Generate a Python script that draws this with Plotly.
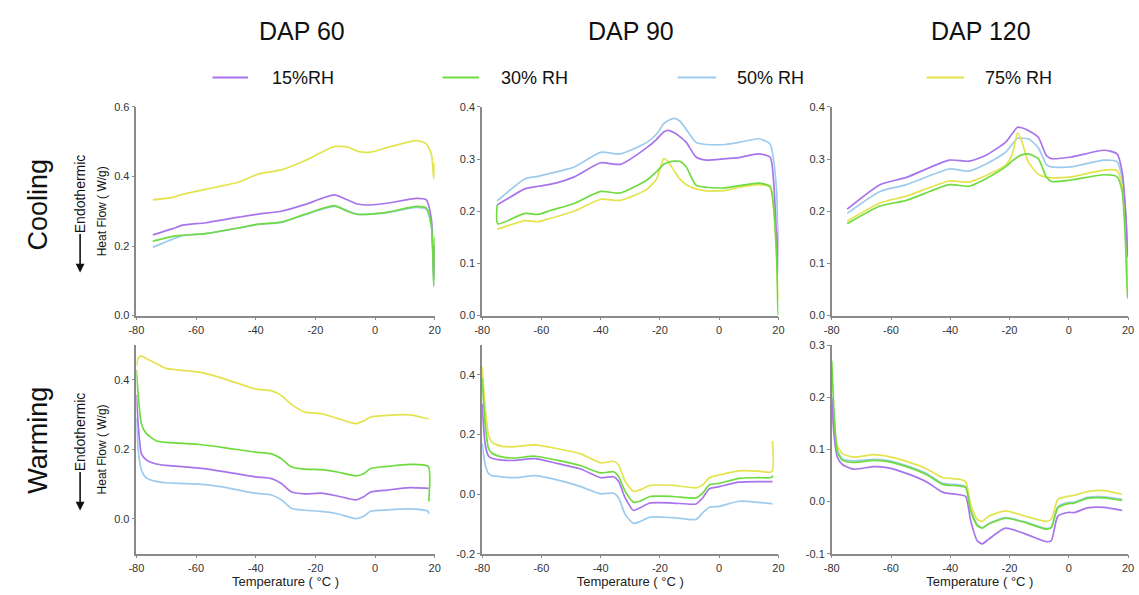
import plotly.graph_objects as go

# ---------------- data (Heat flow, W/g vs temperature, °C) ----------------
series_names = ["15%RH", "30% RH", "50% RH", "75% RH"]
series_colors = ["#A874EC", "#6FDB3F", "#9DCBEE", "#E3E34E"]
col_titles = ["DAP 60", "DAP 90", "DAP 120"]
row_titles = ["Cooling", "Warming"]
x_ticks = [-80, -60, -40, -20, 0, 20]

# Cooling, DAP 60
t_cool_60 = [-74.5, -67.8, -64.5, -56.8, -45.7, -39.1, -31.4, -23.6, -13.7, -9.3,
             -6.0, -1.5, 4.0, 13.9, 17.2, 18.9, 19.7, 20.0]
cool_60_rh15 = [0.232, 0.250, 0.260, 0.267, 0.283, 0.292, 0.300, 0.319, 0.347, 0.333,
                0.321, 0.318, 0.323, 0.337, 0.333, 0.277, 0.108, 0.200]
cool_60_rh30 = [0.214, 0.228, 0.231, 0.236, 0.252, 0.263, 0.269, 0.291, 0.316, 0.300,
                0.291, 0.292, 0.297, 0.314, 0.309, 0.258, 0.084, 0.225]
cool_60_rh50 = [0.197, 0.220, 0.230, 0.236, 0.252, 0.262, 0.268, 0.290, 0.314, 0.302,
                0.292, 0.292, 0.296, 0.311, 0.306, 0.255, 0.090, 0.200]
cool_60_rh75 = [0.333, 0.340, 0.349, 0.363, 0.384, 0.407, 0.419, 0.445, 0.486, 0.485,
                0.473, 0.470, 0.483, 0.503, 0.494, 0.464, 0.394, 0.440]

# Cooling, DAP 90
t_cool_90 = [-74.9, -74.7, -65.6, -61.1, -56.7, -48.9, -40.0, -33.3, -24.4, -21.1,
             -18.7, -17.2, -15.0, -13.3, -11.1, -7.8, -4.4, 2.2, 6.7, 13.3,
             17.2, 18.3, 19.4, 19.8, 20.0]
cool_90_rh15 = [0.213, 0.213, 0.243, 0.248, 0.252, 0.266, 0.293, 0.290, 0.322, 0.338,
                0.352, 0.355, 0.350, 0.343, 0.332, 0.304, 0.298, 0.301, 0.303, 0.310,
                0.304, 0.263, 0.144, 0.080, 0.170]
cool_90_rh30 = [0.213, 0.176, 0.196, 0.194, 0.202, 0.215, 0.238, 0.235, 0.260, 0.276,
                0.290, 0.294, 0.296, 0.296, 0.285, 0.250, 0.246, 0.245, 0.249, 0.254,
                0.248, 0.213, 0.113, 0.020, 0.000]
cool_90_rh50 = [0.220, 0.221, 0.262, 0.267, 0.273, 0.285, 0.313, 0.310, 0.332, 0.348,
                0.368, 0.374, 0.378, 0.373, 0.357, 0.332, 0.328, 0.328, 0.332, 0.339,
                0.329, 0.301, 0.238, 0.175, 0.170]
cool_90_rh75 = [0.166, 0.166, 0.182, 0.180, 0.187, 0.200, 0.223, 0.221, 0.242, 0.262,
                0.301, 0.295, 0.276, 0.262, 0.251, 0.243, 0.239, 0.240, 0.246, 0.251,
                0.246, 0.210, 0.113, 0.050, 0.030]

# Cooling, DAP 120
t_cool_120 = [-74.8, -63.7, -54.8, -40.3, -33.7, -28.1, -21.4, -19.2, -17.3, -15.9,
              -13.7, -10.3, -7.6, -5.9, 0.8, 11.9, 16.3, 18.0, 19.1, 19.9, 20.0]
cool_120_rh15 = [0.204, 0.251, 0.265, 0.298, 0.296, 0.307, 0.332, 0.348, 0.361, 0.360,
                 0.355, 0.342, 0.307, 0.301, 0.304, 0.317, 0.310, 0.276, 0.207, 0.113, 0.140]
cool_120_rh30 = [0.176, 0.210, 0.221, 0.251, 0.248, 0.262, 0.285, 0.296, 0.304, 0.308,
                 0.310, 0.301, 0.266, 0.257, 0.260, 0.270, 0.266, 0.238, 0.144, 0.034, 0.034]
cool_120_rh50 = [0.196, 0.238, 0.251, 0.281, 0.277, 0.290, 0.313, 0.328, 0.340, 0.340,
                 0.339, 0.322, 0.290, 0.285, 0.285, 0.298, 0.295, 0.263, 0.200, 0.130, 0.110]
cool_120_rh75 = [0.181, 0.216, 0.229, 0.258, 0.256, 0.268, 0.288, 0.307, 0.350, 0.335,
                 0.295, 0.271, 0.265, 0.264, 0.266, 0.279, 0.278, 0.251, 0.190, 0.100, 0.050]

# Warming, DAP 60
t_warm_60 = [-80.0, -79.4, -78.3, -76.7, -73.4, -70.1, -65.6, -59.0, -51.3, -40.2,
             -34.7, -31.4, -28.1, -23.6, -18.1, -12.6, -6.5, -3.8, -1.5, 4.0,
             11.7, 17.8, 18.0]
warm_60_rh15 = [0.357, 0.272, 0.187, 0.170, 0.158, 0.154, 0.151, 0.146, 0.137, 0.121,
                0.116, 0.102, 0.078, 0.072, 0.074, 0.066, 0.055, 0.064, 0.077, 0.083,
                0.090, 0.088, 0.088]
warm_60_rh30 = [0.428, 0.357, 0.272, 0.246, 0.225, 0.220, 0.218, 0.214, 0.206, 0.192,
                0.187, 0.173, 0.150, 0.143, 0.142, 0.135, 0.124, 0.130, 0.145, 0.151,
                0.157, 0.151, 0.050]
warm_60_rh50 = [0.290, 0.200, 0.140, 0.118, 0.108, 0.104, 0.102, 0.100, 0.092, 0.074,
                0.069, 0.055, 0.031, 0.025, 0.022, 0.015, 0.001, 0.008, 0.022, 0.026,
                0.029, 0.022, 0.014]
warm_60_rh75 = [0.440, 0.462, 0.469, 0.461, 0.447, 0.433, 0.428, 0.422, 0.405, 0.374,
                0.368, 0.355, 0.330, 0.307, 0.303, 0.289, 0.274, 0.282, 0.293, 0.298,
                0.299, 0.288, 0.288]

# Warming, DAP 90
t_warm_90 = [-80.0, -78.9, -77.8, -76.7, -73.3, -68.9, -62.2, -54.4, -46.7, -40.0,
             -35.6, -33.9, -31.7, -28.9, -26.7, -23.3, -15.6, -7.8, -5.6, -3.3,
             0.0, 6.7, 13.3, 17.8, 18.0]
warm_90_rh15 = [0.303, 0.163, 0.127, 0.120, 0.114, 0.113, 0.119, 0.102, 0.084, 0.055,
                0.058, 0.042, -0.013, -0.055, -0.046, -0.030, -0.030, -0.033, -0.013, 0.018,
                0.025, 0.040, 0.042, 0.042, 0.042]
warm_90_rh30 = [0.388, 0.229, 0.152, 0.138, 0.125, 0.121, 0.127, 0.113, 0.095, 0.071,
                0.075, 0.058, 0.009, -0.027, -0.024, -0.008, -0.008, -0.013, 0.003, 0.031,
                0.036, 0.053, 0.055, 0.056, 0.063]
warm_90_rh50 = [0.170, 0.097, 0.069, 0.062, 0.058, 0.055, 0.062, 0.047, 0.025, 0.001,
                0.003, -0.013, -0.068, -0.098, -0.092, -0.077, -0.079, -0.085, -0.063, -0.044,
                -0.041, -0.024, -0.028, -0.032, -0.032]
warm_90_rh75 = [0.426, 0.284, 0.196, 0.174, 0.160, 0.159, 0.165, 0.152, 0.135, 0.105,
                0.110, 0.097, 0.042, 0.009, 0.014, 0.029, 0.029, 0.021, 0.030, 0.055,
                0.064, 0.078, 0.077, 0.075, 0.179]

# Warming, DAP 120
t_warm_120 = [-80.0, -79.2, -78.1, -76.4, -72.6, -65.9, -61.4, -54.8, -48.1, -42.6,
              -37.0, -34.8, -33.1, -30.9, -29.2, -27.0, -21.4, -14.8, -7.6, -5.9,
              -3.7, -0.3, 1.9, 6.3, 11.9, 18.0]
warm_120_rh15 = [0.200, 0.126, 0.085, 0.071, 0.062, 0.067, 0.065, 0.054, 0.038, 0.018,
                 0.013, 0.010, -0.037, -0.075, -0.081, -0.072, -0.051, -0.062, -0.077, -0.075,
                 -0.028, -0.021, -0.021, -0.012, -0.011, -0.017]
warm_120_rh30 = [0.270, 0.170, 0.095, 0.079, 0.075, 0.079, 0.077, 0.067, 0.052, 0.033,
                 0.030, 0.027, -0.018, -0.046, -0.051, -0.043, -0.032, -0.040, -0.053, -0.050,
                 -0.012, -0.004, -0.003, 0.006, 0.007, 0.002]
warm_120_rh50 = [0.200, 0.150, 0.098, 0.082, 0.078, 0.081, 0.079, 0.069, 0.054, 0.035,
                 0.032, 0.029, -0.016, -0.044, -0.050, -0.042, -0.031, -0.039, -0.052, -0.049,
                 -0.010, -0.002, -0.001, 0.008, 0.009, 0.004]
warm_120_rh75 = [0.175, 0.140, 0.107, 0.092, 0.085, 0.090, 0.087, 0.077, 0.063, 0.046,
                 0.043, 0.038, -0.006, -0.034, -0.038, -0.028, -0.018, -0.028, -0.038, -0.034,
                 0.004, 0.010, 0.012, 0.019, 0.021, 0.014]

panels = [
    (t_cool_60, [cool_60_rh15, cool_60_rh30, cool_60_rh50, cool_60_rh75]),
    (t_cool_90, [cool_90_rh15, cool_90_rh30, cool_90_rh50, cool_90_rh75]),
    (t_cool_120, [cool_120_rh15, cool_120_rh30, cool_120_rh50, cool_120_rh75]),
    (t_warm_60, [warm_60_rh15, warm_60_rh30, warm_60_rh50, warm_60_rh75]),
    (t_warm_90, [warm_90_rh15, warm_90_rh30, warm_90_rh50, warm_90_rh75]),
    (t_warm_120, [warm_120_rh15, warm_120_rh30, warm_120_rh50, warm_120_rh75]),
]
y_ranges = [[0, 0.6], [0, 0.4], [0, 0.4], [-0.1, 0.5], [-0.2, 0.5], [-0.1, 0.3]]
y_ticks = [[0.0, 0.2, 0.4, 0.6], [0.0, 0.1, 0.2, 0.3, 0.4], [0.0, 0.1, 0.2, 0.3, 0.4],
           [0.0, 0.2, 0.4], [-0.2, 0.0, 0.2, 0.4], [-0.1, 0.0, 0.1, 0.2, 0.3]]


def tick_label(v, fmt):
    # plain hyphen-minus for negative tick labels
    return format(v, fmt).replace("\u2212", "-")


# ---------------- layout geometry ----------------
W, H = 1139, 595
FONT = "Liberation Sans, Arial, Helvetica, sans-serif"
x_doms = [[130 / W, 432 / W], [480 / W, 780 / W], [834 / W, 1134 / W]]
y_doms = [[1 - 316 / H, 1 - 103 / H], [1 - 559 / H, 1 - 346 / H]]
draw_order = [2, 3, 0, 1]  # blue, yellow, purple, green (green ends on top)

fig = go.Figure()
layout = dict(
    width=W, height=H, margin=dict(l=0, r=0, t=0, b=0),
    paper_bgcolor="white", plot_bgcolor="white", showlegend=False,
    font=dict(family=FONT, color="#222"),
)

axis_style = dict(showline=True, linecolor="#8a8a8a", linewidth=1.5, ticks="outside",
                  ticklen=3, tickwidth=1.2, tickcolor="#8a8a8a", showgrid=False,
                  zeroline=False, tickfont=dict(size=11, color="#333", family=FONT))

for p, (temps, values) in enumerate(panels):
    row, col = divmod(p, 3)
    ax = "" if p == 0 else str(p + 1)
    for s in draw_order:
        fig.add_trace(go.Scatter(
            x=temps, y=values[s], mode="lines", name=series_names[s],
            line=dict(color=series_colors[s], width=1.7, shape="spline", smoothing=0.6),
            xaxis="x" + ax, yaxis="y" + ax, hoverinfo="x+y+name",
        ))
    xa = dict(axis_style, domain=x_doms[col], range=[-80, 20], tickvals=x_ticks,
              ticktext=[tick_label(v, "d") for v in x_ticks], anchor="y" + ax)
    ya = dict(axis_style, domain=y_doms[row], range=y_ranges[p], tickvals=y_ticks[p],
              ticktext=[tick_label(v, ".1f") for v in y_ticks[p]], anchor="x" + ax)
    if row == 1:
        xa["title"] = dict(text="Temperature ( °C )", font=dict(size=13, color="#222"), standoff=2)
    if col == 0:
        ya["title"] = dict(text="Heat Flow ( W/g)", font=dict(size=12, color="#111"), standoff=5)
    layout["xaxis" + ax] = xa
    layout["yaxis" + ax] = ya

annotations = []
title_x = [298, 631, 985]
for c, t in enumerate(col_titles):
    annotations.append(dict(text=t, x=title_x[c] / W, y=1 - 26 / H, xref="paper", yref="paper",
                            showarrow=False, font=dict(size=25, color="#111", family=FONT),
                            xanchor="center", yanchor="middle"))

row_center = [203, 443]
endo_center = [192, 435]
arrow_tip = [272, 515]
for r, t in enumerate(row_titles):
    annotations.append(dict(text=t, x=30 / W, y=1 - row_center[r] / H, xref="paper", yref="paper",
                            showarrow=False, textangle=-90, font=dict(size=27, color="#111", family=FONT),
                            xanchor="center", yanchor="middle"))
    annotations.append(dict(text="Endothermic", x=73 / W, y=1 - endo_center[r] / H, xref="paper",
                            yref="paper", showarrow=False, textangle=-90,
                            font=dict(size=14, color="#111", family=FONT),
                            xanchor="center", yanchor="middle"))
    annotations.append(dict(text="", x=73 / W, y=1 - arrow_tip[r] / H, xref="paper", yref="paper",
                            showarrow=True, ax=0, ay=-40, arrowhead=2, arrowsize=1.1,
                            arrowwidth=1.6, arrowcolor="#111"))

# legend row
shapes = []
leg_line = [[207, 243], [440, 477], [678, 717], [930, 968]]
leg_text = [265, 497, 736, 987]
leg_y = 1 - 73 / H
for s in range(4):
    shapes.append(dict(type="line", xref="paper", yref="paper", x0=leg_line[s][0] / W,
                       x1=leg_line[s][1] / W, y0=leg_y, y1=leg_y,
                       line=dict(color=series_colors[s], width=2)))
    annotations.append(dict(text=series_names[s], x=leg_text[s] / W, y=leg_y, xref="paper",
                            yref="paper", showarrow=False, xanchor="left", yanchor="middle",
                            font=dict(size=18, color="#111", family=FONT)))

layout["annotations"] = annotations
layout["shapes"] = shapes
fig.update_layout(**layout)
fig.write_html("out.html")
